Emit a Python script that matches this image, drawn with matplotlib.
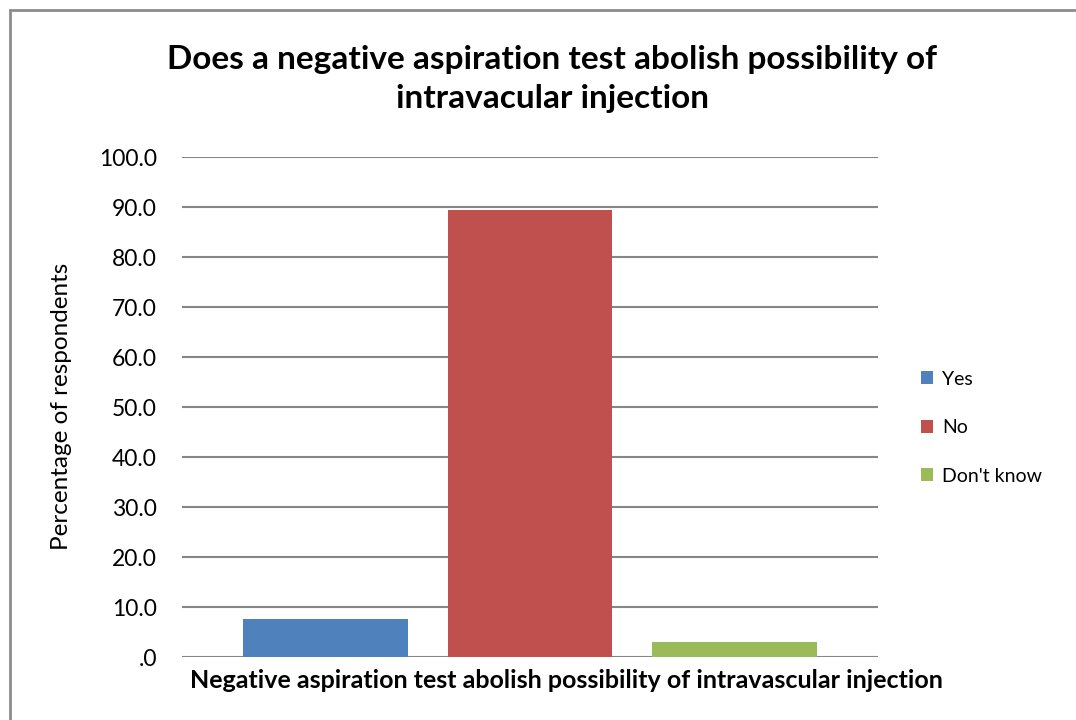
import matplotlib
matplotlib.use("Agg")
import matplotlib.pyplot as plt
import matplotlib.patches as mpatches
import numpy

categories = ["Yes", "No", "Don't know"]
values = [7.6, 89.4, 3.0]
colors = ["#4f81bd", "#c0504d", "#9bbb59"]
yticks = [0, 10, 20, 30, 40, 50, 60, 70, 80, 90, 100]
ytick_labels = [".0", "10.0", "20.0", "30.0", "40.0", "50.0", "60.0", "70.0", "80.0", "90.0", "100.0"]

plt.rcParams['font.family'] = ['Lato', 'DejaVu Sans']

W, H = 1076, 720
fig = plt.figure(figsize=(W / 100, H / 100), dpi=100)

# chart frame (right/bottom edges fall outside the image)
fig.add_artist(mpatches.Rectangle((10 / W, -0.05), 1.1, 1 - 10 / H + 0.05,
                                  transform=fig.transFigure, fill=False,
                                  edgecolor="#8c8c8c", linewidth=2.0))

ax = fig.add_axes([182 / W, 1 - 657 / H, 696 / W, 500 / H])
offsets = numpy.array([-0.2945, 0.0, 0.2945])
width = 0.237
for off, val, col, lab in zip(offsets, values, colors, categories):
    ax.bar(off, val, width=width, color=col, label=lab, zorder=3)

ax.set_xlim(-0.5, 0.5)
ax.set_ylim(0, 100)
ax.set_yticks(yticks)
ax.set_yticklabels(ytick_labels, fontsize=16.5)
ax.set_xticks([])
ax.tick_params(axis='y', length=0, pad=18)
for s in ax.spines.values():
    s.set_visible(False)
for t in yticks:
    ax.axhline(t, color="#868686", linewidth=1.5, zorder=1)

fig.text(62 / W, 1 - 406 / H, "Percentage of respondents", rotation=90,
         ha="center", va="center", fontsize=17.5)

fig.text(566 / W, 1 - 680 / H,
         "Negative aspiration test abolish possibility of intravascular injection",
         ha="center", va="center", fontsize=18, fontweight="bold")

fig.text(552 / W, 1 - 79 / H,
         "Does a negative aspiration test abolish possibility of\nintravacular injection",
         ha="center", va="center", fontsize=24, fontweight="bold", linespacing=1.38)

leg = fig.legend(loc="upper left", bbox_to_anchor=(913 / W, 1 - 363 / H),
                 frameon=False, fontsize=14, handlelength=0.65, handleheight=0.65,
                 handletextpad=0.45, labelspacing=1.62, borderaxespad=0)

fig.savefig("out.png", dpi=100)
